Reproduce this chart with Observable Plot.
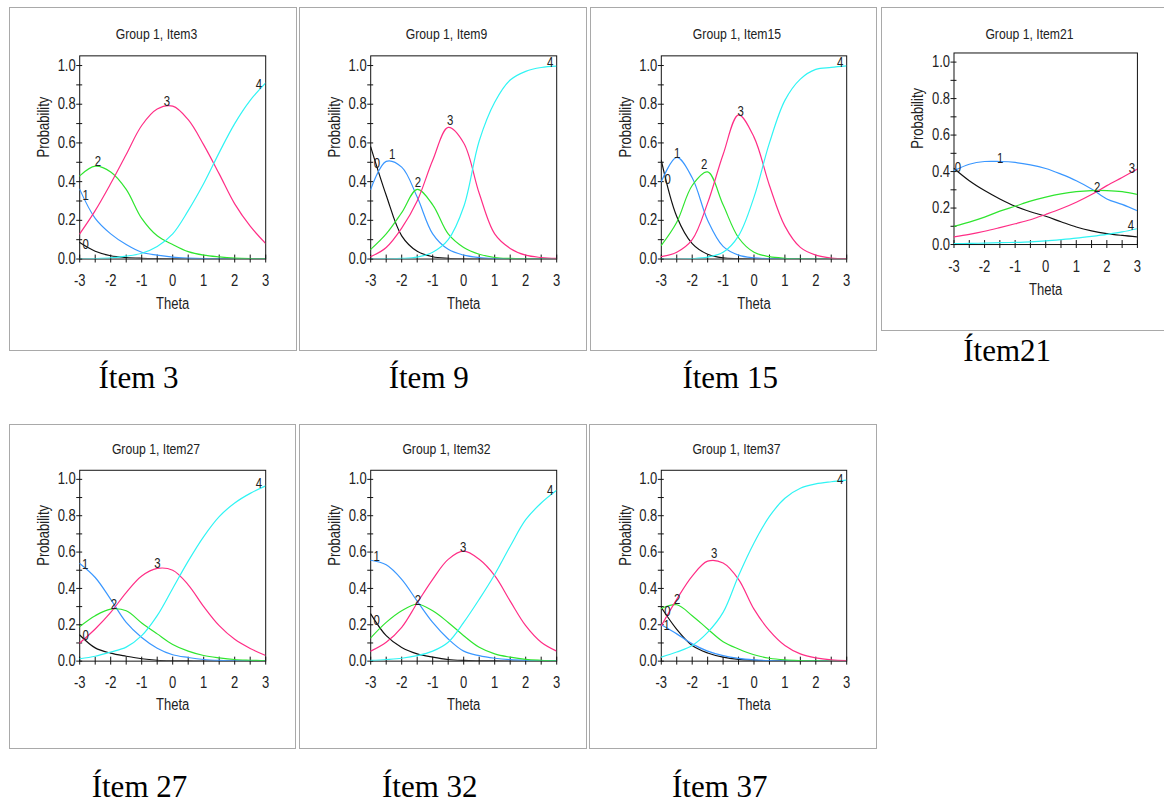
<!DOCTYPE html>
<html>
<head>
<meta charset="utf-8">
<script src="https://cdn.jsdelivr.net/npm/d3@7"></script>
<script src="https://cdn.jsdelivr.net/npm/@observablehq/plot@0.6"></script>
<style>
  body { margin: 0; background: #fff; width: 1164px; height: 805px; position: relative; overflow: hidden; }
  .panel { position: absolute; box-sizing: border-box; border: 1px solid #a9a9a9; background: #fff; }
  .panel svg { position: absolute; left: -1px; top: -1px; overflow: visible; }
  .caption { position: absolute; font-family: "Liberation Serif", "Times New Roman", serif; font-size: 31px; line-height: 31px; white-space: nowrap; color: #000; }
</style>
</head>
<body>
<script>
// Ability grid shared by every item
const theta = [-3, -2.5, -2, -1.5, -1, -0.5, 0, 0.5, 1, 1.5, 2, 2.5, 3];
const categories = ["0", "1", "2", "3", "4"];
const categoryColors = ["#111111", "#3a97ff", "#2fe52f", "#ff2e86", "#30f4f4"];
const xTickLabels = [-3, -2, -1, 0, 1, 2, 3];
const yTickLabels = [0, 0.2, 0.4, 0.6, 0.8, 1.0];

// Category response probabilities, one row per category (0..4), one value per theta
const item3 = [
  [0.085, 0.04, 0.017, 0.008, 0.004, 0.002, 0.001, 0, 0, 0, 0, 0, 0],
  [0.36, 0.21, 0.13, 0.075, 0.035, 0.02, 0.01, 0.005, 0.002, 0.001, 0, 0, 0],
  [0.43, 0.48, 0.45, 0.36, 0.21, 0.12, 0.075, 0.038, 0.02, 0.011, 0.005, 0.002, 0.001],
  [0.13, 0.25, 0.39, 0.54, 0.69, 0.775, 0.79, 0.72, 0.59, 0.44, 0.285, 0.17, 0.08],
  [0, 0.002, 0.006, 0.015, 0.03, 0.065, 0.13, 0.25, 0.39, 0.55, 0.70, 0.82, 0.91]
];
const item9 = [
  [0.58, 0.33, 0.12, 0.04, 0.012, 0.004, 0.001, 0, 0, 0, 0, 0, 0],
  [0.36, 0.505, 0.475, 0.32, 0.13, 0.05, 0.02, 0.008, 0.003, 0.001, 0, 0, 0],
  [0.05, 0.13, 0.24, 0.36, 0.28, 0.13, 0.06, 0.025, 0.008, 0.003, 0.001, 0, 0],
  [0.012, 0.06, 0.16, 0.30, 0.51, 0.68, 0.60, 0.34, 0.13, 0.055, 0.02, 0.008, 0.003],
  [0, 0.001, 0.003, 0.01, 0.035, 0.10, 0.27, 0.61, 0.81, 0.925, 0.97, 0.99, 0.997]
];
const item15 = [
  [0.51, 0.22, 0.08, 0.025, 0.006, 0.002, 0, 0, 0, 0, 0, 0, 0],
  [0.40, 0.525, 0.42, 0.20, 0.065, 0.02, 0.006, 0.002, 0.001, 0, 0, 0, 0],
  [0.07, 0.19, 0.38, 0.45, 0.28, 0.11, 0.035, 0.012, 0.004, 0.001, 0, 0, 0],
  [0.012, 0.035, 0.10, 0.29, 0.54, 0.745, 0.63, 0.38, 0.17, 0.06, 0.02, 0.005, 0.002],
  [0, 0, 0.002, 0.01, 0.035, 0.12, 0.32, 0.60, 0.82, 0.93, 0.98, 0.99, 0.998]
];
const item21 = [
  [0.417, 0.35, 0.296, 0.25, 0.21, 0.18, 0.155, 0.125, 0.096, 0.075, 0.06, 0.05, 0.042],
  [0.405, 0.44, 0.455, 0.455, 0.45, 0.437, 0.417, 0.386, 0.35, 0.305, 0.25, 0.22, 0.185],
  [0.10, 0.123, 0.15, 0.183, 0.21, 0.238, 0.26, 0.278, 0.29, 0.296, 0.296, 0.29, 0.274],
  [0.042, 0.056, 0.073, 0.093, 0.114, 0.136, 0.165, 0.196, 0.232, 0.274, 0.323, 0.368, 0.414],
  [0.005, 0.006, 0.008, 0.01, 0.012, 0.015, 0.02, 0.027, 0.035, 0.045, 0.056, 0.069, 0.087]
];
const item27 = [
  [0.144, 0.073, 0.044, 0.027, 0.013, 0.005, 0.002, 0.001, 0, 0, 0, 0, 0],
  [0.537, 0.46, 0.34, 0.213, 0.13, 0.071, 0.035, 0.02, 0.009, 0.004, 0.002, 0.001, 0],
  [0.19, 0.25, 0.286, 0.277, 0.21, 0.15, 0.092, 0.055, 0.031, 0.018, 0.009, 0.005, 0.002],
  [0.10, 0.177, 0.268, 0.377, 0.468, 0.51, 0.50, 0.42, 0.30, 0.195, 0.12, 0.07, 0.031],
  [0.013, 0.027, 0.05, 0.077, 0.14, 0.25, 0.40, 0.55, 0.685, 0.795, 0.87, 0.923, 0.964]
];
const item32 = [
  [0.26, 0.14, 0.075, 0.04, 0.022, 0.009, 0.004, 0.002, 0.001, 0, 0, 0, 0],
  [0.555, 0.53, 0.45, 0.33, 0.213, 0.122, 0.055, 0.03, 0.016, 0.008, 0.004, 0.002, 0.001],
  [0.128, 0.213, 0.277, 0.313, 0.277, 0.213, 0.14, 0.076, 0.04, 0.022, 0.01, 0.005, 0.002],
  [0.055, 0.104, 0.186, 0.32, 0.45, 0.56, 0.605, 0.56, 0.47, 0.33, 0.195, 0.104, 0.055],
  [0.004, 0.009, 0.016, 0.03, 0.055, 0.104, 0.213, 0.34, 0.477, 0.632, 0.778, 0.87, 0.94]
];
const item37 = [
  [0.295, 0.175, 0.086, 0.045, 0.022, 0.01, 0.005, 0.002, 0.001, 0, 0, 0, 0],
  [0.20, 0.15, 0.095, 0.055, 0.03, 0.015, 0.007, 0.003, 0.001, 0, 0, 0, 0],
  [0.29, 0.31, 0.25, 0.177, 0.107, 0.067, 0.035, 0.016, 0.007, 0.003, 0.001, 0, 0],
  [0.195, 0.34, 0.468, 0.55, 0.54, 0.45, 0.286, 0.168, 0.086, 0.04, 0.018, 0.007, 0.003],
  [0.022, 0.05, 0.086, 0.158, 0.268, 0.47, 0.65, 0.796, 0.896, 0.951, 0.975, 0.987, 0.996]
];

// Where each category number is written on its curve: [theta, probability]
const item3Labels = [[-2.81, 0.077], [-2.81, 0.328], [-2.41, 0.504], [-0.19, 0.815], [2.78, 0.90]];
const item9Labels = [[-2.80, 0.494], [-2.31, 0.542], [-1.48, 0.397], [-0.44, 0.716], [2.79, 1.017]];
const item15Labels = [[-2.79, 0.409], [-2.49, 0.547], [-1.61, 0.49], [-0.43, 0.764], [2.79, 1.017]];
const item21Labels = [[-2.87, 0.423], [-1.49, 0.474], [1.68, 0.314], [2.82, 0.414], [2.79, 0.102]];
const item27Labels = [[-2.81, 0.14], [-2.82, 0.532], [-1.9, 0.313], [-0.49, 0.537], [2.78, 0.975]];
const item32Labels = [[-2.81, 0.222], [-2.81, 0.577], [-1.48, 0.335], [-0.02, 0.623], [2.79, 0.936]];
const item37Labels = [[-2.80, 0.275], [-2.83, 0.195], [-2.49, 0.34], [-1.29, 0.59], [2.79, 0.998]];

const sans = "'Liberation Sans', Arial, sans-serif";

// Panel boxes (page pixels) and plot-area margins inside each box
const panels = [
  {title: "Group 1, Item3",  caption: "Ítem 3",  probs: item3,  labels: item3Labels,  box: [9, 7, 288, 344],   m: [48.7, 30, 90.7, 70.7], capAt: [98.5, 388]},
  {title: "Group 1, Item9",  caption: "Ítem 9",  probs: item9,  labels: item9Labels,  box: [299, 7, 288, 344], m: [48.7, 29, 90.7, 71.7], capAt: [388.7, 388]},
  {title: "Group 1, Item15", caption: "Ítem 15", probs: item15, labels: item15Labels, box: [590, 7, 287, 344], m: [48.7, 29, 90.7, 71.3], capAt: [682.4, 388]},
  {title: "Group 1, Item21", caption: "Ítem21",  probs: item21, labels: item21Labels, box: [881, 7, 290, 324], m: [45.8, 32.3, 85.3, 73], capAt: [963.3, 361]},
  {title: "Group 1, Item27", caption: "Ítem 27", probs: item27, labels: item27Labels, box: [9, 424, 287, 325], m: [46.1, 29, 86.7, 70.7], capAt: [91.7, 796.7]},
  {title: "Group 1, Item32", caption: "Ítem 32", probs: item32, labels: item32Labels, box: [299, 424, 288, 325], m: [46.1, 29, 86.7, 71.7], capAt: [382, 796.7]},
  {title: "Group 1, Item37", caption: "Ítem 37", probs: item37, labels: item37Labels, box: [589, 424, 288, 325], m: [46.1, 29, 86.7, 72.3], capAt: [672, 796.7]}
];

const halfSteps = d3.range(-3, 3.001, 0.5);
const tenths = d3.range(0, 1.0001, 0.1).map(v => +v.toFixed(1));

// Squeeze every label horizontally around its own anchor for a narrow-face look
function condense(svg, k) {
  svg.querySelectorAll("text").forEach(el => {
    const t = el.getAttribute("transform") || "";
    el.setAttribute("transform", `${t} scale(${k},1)`.trim());
  });
}

for (const p of panels) {
  const [left, top, width, height] = p.box;
  const [mt, mr, mb, ml] = p.m;
  const rows = categories.flatMap((c, ci) => theta.map((t, i) => ({theta: t, prob: p.probs[ci][i], cat: c})));
  const labelRows = p.labels.map(([t, v], ci) => ({theta: t, prob: v, cat: categories[ci]}));
  const plotCenter = (ml + width - mr) / 2;
  const topRow = top < 100;
  const titleBaseline = topRow ? 31.7 : 29.3;

  const chart = Plot.plot({
    width, height,
    marginTop: mt, marginRight: mr, marginBottom: mb, marginLeft: ml,
    style: {fontFamily: sans, color: "#222", background: "transparent", overflow: "visible"},
    x: {domain: [-3, 3], label: null},
    y: {domain: [0, 1.05], label: null},
    color: {domain: categories, range: categoryColors},
    marks: [
      Plot.frame({stroke: "#111", strokeWidth: 1}),
      // tick marks crossing the axes
      Plot.axisX(halfSteps, {tickSize: 8, dy: -4, tickFormat: () => "", label: null, stroke: "#111"}),
      Plot.axisY(tenths, {tickSize: 6, dx: 3, tickFormat: () => "", label: null, stroke: "#111"}),
      // tick labels
      Plot.axisX(xTickLabels, {tickSize: 0, tickPadding: 16, fontSize: 16, label: null, tickFormat: d => String(d)}),
      Plot.axisY(yTickLabels, {tickSize: 0, tickPadding: 4, fontSize: 16, label: null, tickFormat: d3.format(".1f")}),
      // axis titles
      Plot.text(["Theta"], {frameAnchor: "bottom", lineAnchor: "top", dy: topRow ? 39 : 37.6, fontSize: 16, fill: "#222"}),
      Plot.text(["Probability"], {frameAnchor: "left", rotate: -90, dx: -36, fontSize: 16, fill: "#222"}),
      // panel title
      Plot.text([p.title], {frameAnchor: "top", lineAnchor: "bottom", dy: titleBaseline - mt, dx: width / 2 + 4 - plotCenter, fontSize: 15, fill: "#222"}),
      // category response curves
      Plot.line(rows, {x: "theta", y: "prob", z: "cat", stroke: "cat", curve: "catmull-rom", strokeWidth: 1.2, clip: true}),
      // category numbers
      Plot.text(labelRows, {x: "theta", y: "prob", text: "cat", fontSize: 14, fill: "#222"})
    ]
  });
  condense(chart, 0.82);

  const div = document.createElement("div");
  div.className = "panel";
  Object.assign(div.style, {left: left + "px", top: top + "px", width: width + "px", height: height + "px"});
  div.appendChild(chart);
  document.body.appendChild(div);

  const cap = document.createElement("div");
  cap.className = "caption";
  cap.textContent = p.caption;
  cap.style.left = p.capAt[0] + "px";
  cap.style.top = (p.capAt[1] - 26) + "px";
  document.body.appendChild(cap);
}
</script>
</body>
</html>
